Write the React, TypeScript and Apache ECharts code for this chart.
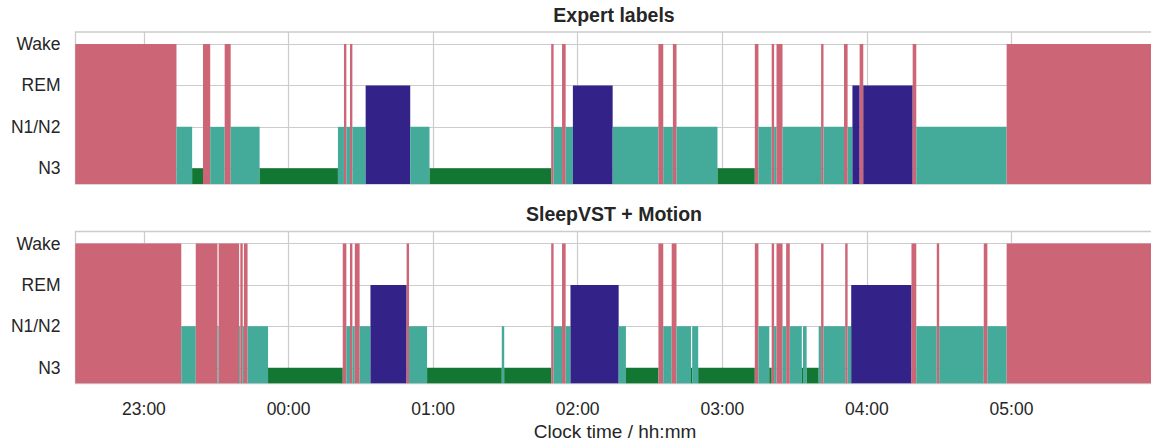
import React, { useEffect, useRef } from "react";
import * as echarts from "echarts";

// Stage order from bottom to top (y value = index)
const STAGE_LABELS = ["N3", "N1/N2", "REM", "Wake"];
const STAGE_COLORS = ["#117733", "#44AA99", "#332288", "#CC6677"];

// x values are minutes after 22:00
const HOUR_TICKS = [60, 120, 180, 240, 300, 360, 420];
const HOUR_LABELS = ["23:00", "00:00", "01:00", "02:00", "03:00", "04:00", "05:00"];

const RECORD_END = 490;

const expertStarts = [
  31.5, 73.5, 80, 84.5, 87.5, 93.5, 96, 108, 140.5, 143, 144, 145.5, 146.5, 152, 170.5, 178.5,
  229, 230, 233.5, 235, 238, 254.5, 273.5, 275.5, 279.5, 281, 298, 313.5, 315, 320.5, 321.5,
  322.5, 325, 341, 342, 350.5, 352, 354, 357, 358.5, 379, 380.5, 418,
];
const expertStages = [
  "Wake", "N1/N2", "N3", "Wake", "N1/N2", "Wake", "N1/N2", "N3", "N1/N2", "Wake", "N1/N2", "Wake",
  "N1/N2", "REM", "N1/N2", "N3", "Wake", "N1/N2", "Wake", "N1/N2", "REM", "N1/N2", "Wake", "N1/N2",
  "Wake", "N1/N2", "N3", "Wake", "N1/N2", "Wake", "N1/N2", "Wake", "N1/N2", "Wake", "N1/N2", "Wake",
  "N1/N2", "REM", "Wake", "REM", "Wake", "N1/N2", "Wake",
];

const modelStarts = [
  31.5, 75.5, 81.5, 90.5, 91, 99.5, 100, 101, 101.5, 103, 111.5, 142.5, 144, 145.5, 146.5, 147.5,
  149.5, 154, 169, 170, 177.5, 208.5, 209.5, 229, 230, 233.5, 235, 237, 257, 260, 273.5, 275.5,
  279, 281, 287, 287.5, 290, 313.5, 315, 319.5, 320.5, 321.5, 322.5, 325, 326.5, 328, 333, 333.5,
  335, 340, 341, 342, 351, 352, 353.5, 378.5, 380.5, 389, 390, 408.5, 410, 418,
];
const modelStages = [
  "Wake", "N1/N2", "Wake", "N1/N2", "Wake", "N1/N2", "Wake", "N1/N2", "Wake", "N1/N2", "N3", "Wake",
  "N1/N2", "Wake", "N1/N2", "Wake", "N1/N2", "REM", "Wake", "N1/N2", "N3", "N1/N2", "N3", "Wake",
  "N1/N2", "Wake", "N1/N2", "REM", "N1/N2", "N3", "Wake", "N1/N2", "Wake", "N1/N2", "N3", "N1/N2",
  "N3", "Wake", "N1/N2", "N3", "Wake", "N1/N2", "Wake", "N1/N2", "Wake", "N1/N2", "N3", "N1/N2",
  "N3", "N1/N2", "Wake", "N1/N2", "Wake", "N1/N2", "REM", "Wake", "N1/N2", "Wake", "N1/N2", "Wake",
  "N1/N2", "Wake",
];

const PANEL_TITLES = ["Expert labels", "SleepVST + Motion"];
const X_AXIS_NAME = "Clock time / hh:mm";

const X_MIN = 31.6;
const X_MAX = 486.2;
const Y_MIN = -0.38;
const Y_MAX = 3.29;

const FONT = "'Liberation Sans', Arial, Helvetica, sans-serif";
const TEXT = "#262626";
const GRID = "#cccccc";

function toSegments(starts: number[], stages: string[]) {
  return starts.map((s, i) => [
    s,
    i + 1 < starts.length ? starts[i + 1] : RECORD_END,
    STAGE_LABELS.indexOf(stages[i]),
  ]);
}

export default function App() {
  const ref = useRef<HTMLDivElement>(null);
  useEffect(() => {
    document.body.style.margin = "0";
    if (!ref.current) return;
    const chart = echarts.init(ref.current, null, { renderer: "svg" });
    const grids = [
      { left: 75.5, width: 1095.5, top: 32, height: 152 },
      { left: 75.5, width: 1095.5, top: 231.5, height: 152 },
    ].map((g) => ({
      ...g,
      show: true,
      borderColor: GRID,
      borderWidth: 1.3,
      backgroundColor: "transparent",
      containLabel: false,
      outerBoundsMode: "none",
    }));

    const xAxes = [0, 1].map((i) => ({
      type: "value",
      gridIndex: i,
      min: X_MIN,
      max: X_MAX,
      axisLine: { show: false },
      axisTick: { show: false, customValues: HOUR_TICKS },
      splitLine: { show: true, lineStyle: { color: GRID, width: 1.2 } },
      axisLabel: {
        show: i === 1,
        customValues: HOUR_TICKS,
        formatter: (v: number) => HOUR_LABELS[HOUR_TICKS.indexOf(v)] ?? "",
        color: TEXT,
        fontSize: 17.5,
        fontFamily: FONT,
        margin: 16,
      },
    }));

    const yAxes = [0, 1].map((i) => ({
      type: "value",
      gridIndex: i,
      min: Y_MIN,
      max: Y_MAX,
      axisLine: { show: false },
      axisTick: { show: false, customValues: [0, 1, 2, 3] },
      splitLine: { show: true, lineStyle: { color: GRID, width: 1.2 } },
      axisLabel: {
        customValues: [0, 1, 2, 3],
        formatter: (v: number) => STAGE_LABELS[Math.round(v)] ?? "",
        color: TEXT,
        fontSize: 17.5,
        fontFamily: FONT,
        margin: 15,
      },
    }));

    const renderItem = (params: any, api: any) => {
      const x0 = api.value(0);
      const x1 = api.value(1);
      const s = api.value(2);
      const p0 = api.coord([x0, s]);
      const p1 = api.coord([x1, Y_MIN]);
      return {
        type: "rect",
        shape: { x: p0[0], y: p0[1], width: p1[0] - p0[0], height: p1[1] - p0[1] },
        style: { fill: STAGE_COLORS[s] },
      };
    };

    const series = [
      toSegments(expertStarts, expertStages),
      toSegments(modelStarts, modelStages),
    ].map((data, i) => ({
      type: "custom",
      xAxisIndex: i,
      yAxisIndex: i,
      clip: true,
      silent: true,
      renderItem,
      encode: { x: [0, 1], y: 2 },
      data,
    }));

    chart.setOption({
      animation: false,
      grid: grids,
      xAxis: xAxes,
      yAxis: yAxes,
      series,
      graphic: [
        {
          type: "text",
          x: 614,
          y: 14.5,
          style: {
            text: PANEL_TITLES[0],
            fill: TEXT,
            font: `bold 19.5px ${FONT}`,
            align: "center",
            verticalAlign: "middle",
          },
        },
        {
          type: "text",
          x: 614,
          y: 214,
          style: {
            text: PANEL_TITLES[1],
            fill: TEXT,
            font: `bold 19.5px ${FONT}`,
            align: "center",
            verticalAlign: "middle",
          },
        },
        {
          type: "text",
          x: 615,
          y: 431,
          style: {
            text: X_AXIS_NAME,
            fill: TEXT,
            font: `19px ${FONT}`,
            align: "center",
            verticalAlign: "middle",
          },
        },
      ],
    });
    return () => chart.dispose();
  }, []);
  return <div ref={ref} style={{ width: 1151, height: 444 }} />;
}
